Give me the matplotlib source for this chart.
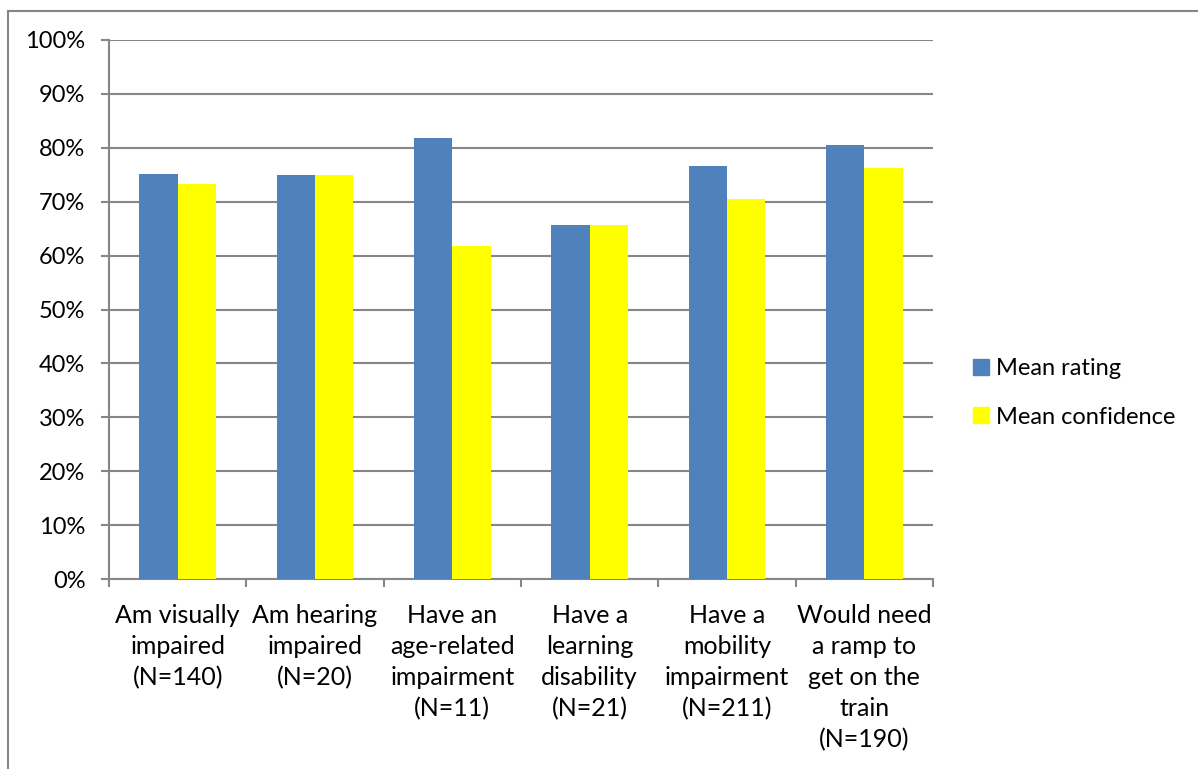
import matplotlib
matplotlib.use("Agg")
import matplotlib.pyplot as plt
import numpy as np
from matplotlib.patches import Rectangle
from matplotlib.lines import Line2D

plt.rcParams['font.family'] = ['Lato', 'DejaVu Sans']

categories = [
    "Am visually\nimpaired\n(N=140)",
    "Am hearing\nimpaired\n(N=20)",
    "Have an\nage-related\nimpairment\n(N=11)",
    "Have a\nlearning\ndisability\n(N=21)",
    "Have a\nmobility\nimpairment\n(N=211)",
    "Would need\na ramp to\nget on the\ntrain\n(N=190)",
]
mean_rating = [75.1, 75.0, 81.8, 65.7, 76.6, 80.5]
mean_confidence = [73.3, 75.0, 61.8, 65.7, 70.5, 76.2]
series_names = ["Mean rating", "Mean confidence"]
colors = ["#4F81BD", "#FFFF00"]
yticks = np.arange(0, 101, 10)

W, H = 1198, 769
fig = plt.figure(figsize=(W / 100, H / 100), dpi=100)
ax = fig.add_axes([109 / W, 1 - 579 / H, (933 - 109) / W, (579 - 40) / H])

x = np.arange(len(categories))
bw = 0.28
ax.bar(x - bw / 2, mean_rating, bw, color=colors[0], zorder=3, label=series_names[0])
ax.bar(x + bw / 2, mean_confidence, bw, color=colors[1], zorder=3, label=series_names[1])

grid_c = "#868686"
ax.set_xlim(-0.5, len(categories) - 0.5)
ax.set_ylim(0, 100)
ax.set_yticks(yticks)
ax.set_yticklabels([f"{v}%" for v in yticks], fontsize=17, color="black")
ax.yaxis.grid(True, color=grid_c, linewidth=1.5, zorder=0)
ax.tick_params(axis='y', length=6, width=1.5, color=grid_c, pad=11)

ax.set_xticks(x)
ax.set_xticklabels(categories, fontsize=18, linespacing=1.42, color="black")
ax.set_xticks(np.arange(-0.5, len(categories), 1), minor=True)
ax.tick_params(axis='x', which='major', length=0, pad=18)
ax.tick_params(axis='x', which='minor', length=6, width=1.5, color=grid_c)

for s in ['top', 'right']:
    ax.spines[s].set_visible(False)
for s in ['left', 'bottom']:
    ax.spines[s].set_color(grid_c)
    ax.spines[s].set_linewidth(1.5)

handles = [Line2D([], [], marker='s', linestyle='none', markersize=11,
                  markerfacecolor=c, markeredgecolor=c) for c in colors]
fig.legend(handles, series_names, loc='center left',
           bbox_to_anchor=(948 / W, 1 - 393 / H), frameon=False, fontsize=17,
           handletextpad=0.15, labelspacing=1.15, handlelength=1.0)

fig.patches.append(Rectangle((8 / W, -0.05), 1.2, 1.05 - 10.5 / H,
                             transform=fig.transFigure, fill=False,
                             edgecolor=grid_c, linewidth=1.5))

fig.savefig("out.png", dpi=100)
